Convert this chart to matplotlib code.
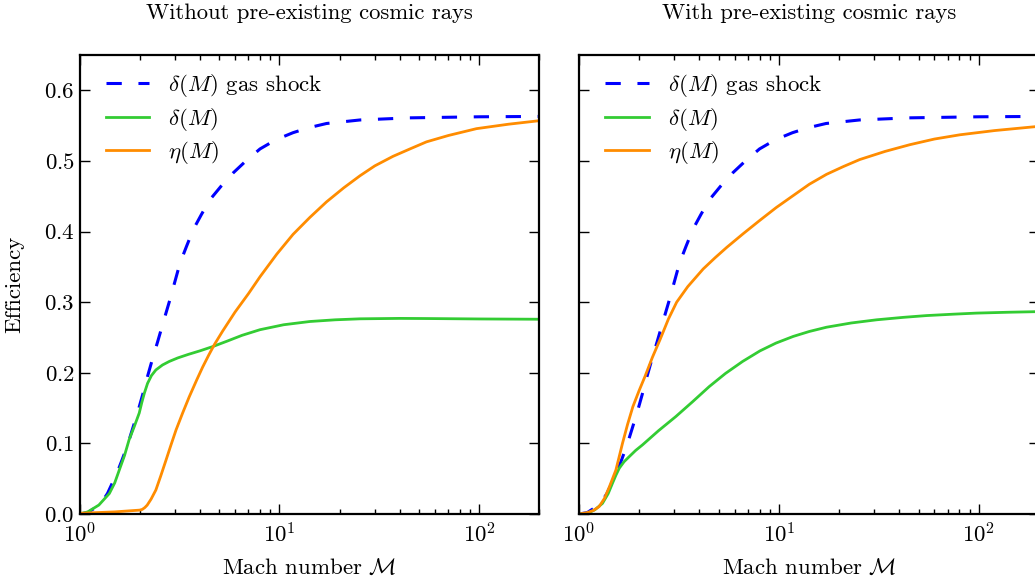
import matplotlib
matplotlib.use("Agg")
import matplotlib.pyplot as plt

plt.rcParams['font.family'] = 'cmr10'
plt.rcParams['mathtext.fontset'] = 'cm'
plt.rcParams['axes.formatter.use_mathtext'] = True
plt.rcParams['font.size'] = 16.5
plt.rcParams['lines.scale_dashes'] = False

# gas shock thermalization efficiency (same curve in both panels)
mach_gas = [1.0, 1.1, 1.2, 1.3, 1.38, 1.46, 1.55, 1.64, 1.74, 1.84, 1.95, 2.07, 2.19,
            2.32, 2.46, 2.64, 2.83, 3.0, 3.18, 3.43, 3.71, 4.07, 4.49, 5.1, 5.87, 6.8,
            8.0, 9.6, 11.7, 14.0, 17.2, 25.3, 44.8, 100, 200]
delta_gas = [0.0, 0.002, 0.009, 0.018, 0.029, 0.044, 0.06, 0.078, 0.098, 0.12, 0.143, 0.169, 0.195,
             0.22, 0.244, 0.274, 0.303, 0.329, 0.355, 0.379, 0.403, 0.424, 0.445, 0.464, 0.483, 0.5,
             0.517, 0.53, 0.54, 0.547, 0.553, 0.558, 0.561, 0.5625, 0.563]

# without pre-existing cosmic rays
mach_d1 = [1.0, 1.1, 1.25, 1.41, 1.5, 1.58, 1.68, 1.77, 1.88, 1.99, 2.05, 2.11, 2.19,
           2.29, 2.41, 2.6, 2.81, 3.1, 3.5, 4.0, 4.63, 5.5, 6.5, 8.0, 10.5, 14.2, 19,
           25.3, 40, 54.4, 100, 200]
delta_1 = [0.0, 0.003, 0.0127, 0.029, 0.044, 0.062, 0.083, 0.105, 0.124, 0.143, 0.158, 0.171, 0.185,
           0.196, 0.204, 0.211, 0.216, 0.221, 0.226, 0.231, 0.237, 0.245, 0.253, 0.261, 0.268, 0.2726, 0.275,
           0.2764, 0.277, 0.2768, 0.2762, 0.2758]
mach_e1 = [1.0, 1.5, 2.0, 2.06, 2.12, 2.18, 2.28, 2.41, 2.55, 2.71, 2.87, 3.04, 3.28,
           3.54, 3.86, 4.13, 4.43, 4.73, 5.2, 6.0, 7.0, 8.0, 9.7, 11.7, 14.2, 17.2,
           21, 25.3, 30, 37, 45, 54.4, 70, 96.8, 140, 200]
eta_1 = [0.001, 0.003, 0.0055, 0.0065, 0.009, 0.0125, 0.021, 0.034, 0.054, 0.0765, 0.098, 0.119, 0.143,
         0.166, 0.19, 0.208, 0.225, 0.24, 0.259, 0.286, 0.312, 0.336, 0.368, 0.396, 0.42, 0.442,
         0.462, 0.479, 0.493, 0.5065, 0.517, 0.527, 0.536, 0.5457, 0.552, 0.557]

# with pre-existing cosmic rays
mach_d2 = [1.0, 1.1, 1.2, 1.31, 1.4, 1.47, 1.53, 1.59, 1.68, 1.78, 1.92, 2.08, 2.5,
           3.05, 3.7, 4.48, 5.4, 6.58, 8.04, 9.66, 11.8, 14.2, 17.3, 23, 30.8, 42,
           54.8, 75, 97.4, 140, 200]
delta_2 = [0.0, 0.001, 0.006, 0.015, 0.029, 0.0435, 0.055, 0.0648, 0.074, 0.081, 0.09, 0.098, 0.118,
           0.138, 0.159, 0.1804, 0.199, 0.216, 0.231, 0.242, 0.2515, 0.2585, 0.2645, 0.2705, 0.275, 0.2785,
           0.281, 0.283, 0.2845, 0.2857, 0.2866]
mach_e2 = [1.0, 1.1, 1.18, 1.26, 1.34, 1.42, 1.53, 1.65, 1.75, 1.86, 2.0, 2.14, 2.33,
           2.54, 2.8, 3.08, 3.5, 4.18, 4.8, 5.48, 6.63, 8.04, 9.7, 11.8, 14.2, 17.3,
           21, 25.4, 34, 45.2, 60, 80.4, 120, 200]
eta_2 = [0.0, 0.002, 0.005, 0.0104, 0.022, 0.0387, 0.0624, 0.1, 0.127, 0.152, 0.175, 0.195, 0.222,
         0.2466, 0.276, 0.3, 0.322, 0.347, 0.363, 0.3775, 0.397, 0.416, 0.434, 0.451, 0.467, 0.481,
         0.492, 0.502, 0.5135, 0.523, 0.531, 0.537, 0.543, 0.549]

titles = ["Without pre-existing cosmic rays", "With pre-existing cosmic rays"]
panels = [(mach_d1, delta_1, mach_e1, eta_1), (mach_d2, delta_2, mach_e2, eta_2)]

fig = plt.figure(figsize=(10.35, 5.83), dpi=100)
lefts = [79.5 / 1035, 579 / 1035]

for i, (md, d, me, e) in enumerate(panels):
    ax = fig.add_axes([lefts[i], 69 / 583, 460 / 1035, 459 / 583])
    ax.plot(mach_gas, delta_gas, color='#0000ff', lw=2.2, dashes=(11, 12),
            label=r'$\delta(M)$ gas shock')
    ax.plot(md, d, color='#33cc33', lw=2, label=r'$\delta(M)$')
    ax.plot(me, e, color='#ff8c00', lw=2, label=r'$\eta(M)$')
    ax.set_xscale('log')
    ax.set_xlim(1, 200)
    ax.set_ylim(0, 0.65)
    ax.set_yticks([0.0, 0.1, 0.2, 0.3, 0.4, 0.5, 0.6])
    ax.tick_params(which='both', direction='in', top=True, right=True)
    ax.tick_params(which='major', length=7, width=1)
    ax.tick_params(which='minor', length=3.5, width=1)
    ax.tick_params(axis='x', which='major', pad=6)
    for s in ax.spines.values():
        s.set_linewidth(1.6)
    ax.set_title(titles[i], pad=26, fontsize=16.3)
    ax.set_xlabel(r'Mach number $\mathcal{M}$', labelpad=8)
    if i == 0:
        ax.set_ylabel('Efficiency', labelpad=14)
    else:
        ax.set_yticklabels([])
    ax.legend(loc='upper left', bbox_to_anchor=(0.0376, 0.982), borderaxespad=0,
              frameon=False, handlelength=1.88, handletextpad=0.83, labelspacing=0.27)

fig.savefig('out.png', dpi=100)
